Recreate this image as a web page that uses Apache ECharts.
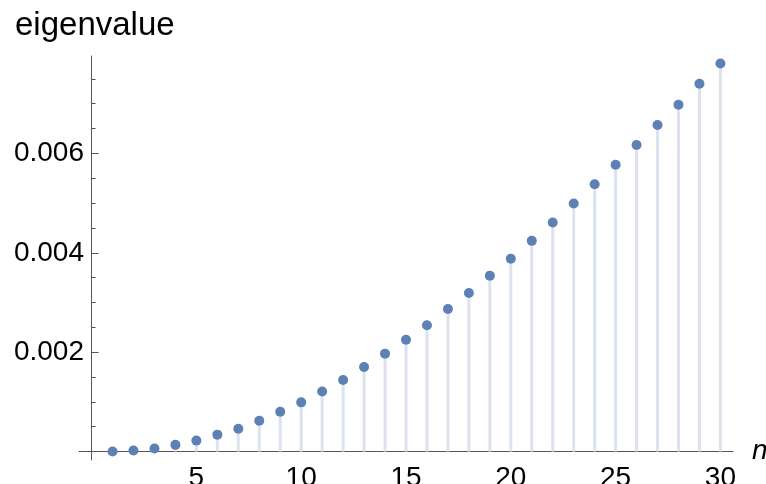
<!DOCTYPE html>
<html>
<head>
<meta charset="utf-8">
<script src="https://cdn.jsdelivr.net/npm/echarts@6/dist/echarts.min.js"></script>
<style>
  html, body { margin: 0; padding: 0; background: #fff; }
  #chart { width: 766px; height: 484px; }
</style>
</head>
<body>
<div id="chart"></div>
<script>
// Eigenvalue index n = 1..30
const nValues = [1, 2, 3, 4, 5, 6, 7, 8, 9, 10, 11, 12, 13, 14, 15,
                 16, 17, 18, 19, 20, 21, 22, 23, 24, 25, 26, 27, 28, 29, 30];
// Eigenvalues for each n
const eigenvalues = [0.00000, 0.00002, 0.00006, 0.000135, 0.00022, 0.00034, 0.00046, 0.00062,
                     0.00080, 0.00099, 0.00121, 0.00144, 0.00170, 0.00197, 0.00225, 0.00254,
                     0.00287, 0.00319, 0.00354, 0.00388, 0.00424, 0.00461, 0.00499, 0.00538,
                     0.00577, 0.00617, 0.00657, 0.00698, 0.00740, 0.00781];
// Axis tick labels
const xLabelValues = [5, 10, 15, 20, 25, 30];
const xMinorTicks = [1, 2, 3, 4, 6, 7, 8, 9, 11, 12, 13, 14, 16, 17, 18, 19, 21, 22, 23, 24, 26, 27, 28, 29];
const yLabelValues = [0.002, 0.004, 0.006];
const yMinorTicks = [0.0005, 0.001, 0.0015, 0.0025, 0.003, 0.0035, 0.0045, 0.005, 0.0055, 0.0065, 0.007, 0.0075];

const points = nValues.map((n, i) => [n, eigenvalues[i]]);

const FONT = '"Liberation Sans", Arial, Helvetica, sans-serif';
const AXIS_COLOR = '#555';
const X_MIN = -0.6, X_MAX = 30.6;
const Y_MIN = -0.00017, Y_MAX = 0.00796;

const chart = echarts.init(document.getElementById('chart'), null, { renderer: 'canvas' });

const baseX = {
  type: 'value', min: X_MIN, max: X_MAX, position: 'bottom',
  splitLine: { show: false }
};
const baseY = {
  type: 'value', min: Y_MIN, max: Y_MAX, position: 'left',
  splitLine: { show: false }
};

chart.setOption({
  animation: false,
  backgroundColor: '#fff',
  title: {
    text: 'eigenvalue', left: 10, top: 4,
    textStyle: { fontFamily: FONT, fontSize: 33, fontWeight: 'normal', color: '#000' }
  },
  grid: { left: 79, right: 33, top: 56, bottom: 24, containLabel: false, outerBoundsMode: 'none' },
  xAxis: [
    Object.assign({}, baseX, {
      name: 'n', nameLocation: 'end', nameGap: 19,
      nameTextStyle: { fontFamily: FONT, fontSize: 28, fontStyle: 'italic', color: '#000', verticalAlign: 'middle' },
      axisLine: { onZero: true, lineStyle: { color: AXIS_COLOR, width: 1 } },
      axisTick: { inside: true, length: 7, customValues: xLabelValues, lineStyle: { color: AXIS_COLOR } },
      axisLabel: { customValues: xLabelValues, margin: 4, fontFamily: FONT, fontSize: 28, color: '#000' }
    }),
    Object.assign({}, baseX, {
      axisLine: { show: false, onZero: true },
      axisTick: { inside: true, length: 4, customValues: xMinorTicks, lineStyle: { color: AXIS_COLOR } },
      axisLabel: { show: false }
    })
  ],
  yAxis: [
    Object.assign({}, baseY, {
      axisLine: { onZero: true, lineStyle: { color: AXIS_COLOR, width: 1 } },
      axisTick: { inside: true, length: 7, customValues: yLabelValues, lineStyle: { color: AXIS_COLOR } },
      axisLabel: {
        customValues: yLabelValues, margin: -5, fontFamily: FONT, fontSize: 28, color: '#000',
        formatter: v => v.toFixed(3)
      }
    }),
    Object.assign({}, baseY, {
      axisLine: { show: false, onZero: true },
      axisTick: { inside: true, length: 4, customValues: yMinorTicks, lineStyle: { color: AXIS_COLOR } },
      axisLabel: { show: false }
    })
  ],
  series: [
    {
      // stems from zero up to each eigenvalue
      type: 'bar', xAxisIndex: 0, yAxisIndex: 0,
      data: points, barWidth: 3,
      itemStyle: { color: '#dce3ee' },
      silent: true, z: 1
    },
    {
      type: 'scatter', xAxisIndex: 0, yAxisIndex: 0,
      data: points, symbol: 'circle', symbolSize: 10,
      itemStyle: { color: '#5e81b5', opacity: 1 },
      z: 3
    }
  ]
});
</script>
</body>
</html>
